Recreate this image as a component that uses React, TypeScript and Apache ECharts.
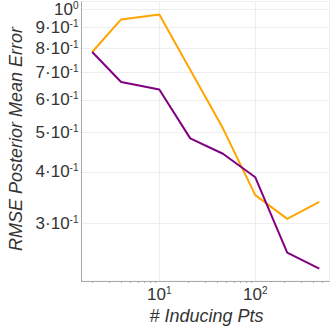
import React, { useEffect, useRef } from 'react';
import * as echarts from 'echarts';

const orangeX = [2, 4, 10, 46, 100, 215, 464];
const orangeRmse = [0.785, 0.943, 0.97, 0.511, 0.351, 0.307, 0.338];
const purpleX = [2, 4, 10, 21, 46, 100, 215, 464];
const purpleRmse = [0.785, 0.663, 0.636, 0.483, 0.443, 0.388, 0.254, 0.232];
const yTickValues = [0.3, 0.4, 0.5, 0.6, 0.7, 0.8, 0.9, 1];
const xMinorTicks = [2, 3, 4, 5, 6, 7, 8, 9, 20, 30, 40, 50, 60, 70, 80, 90, 200, 300, 400, 500];
const xMin = 1.547;
const xMax = 593;
const yMin = 0.2165;
const yMax = 1.043;

const labelColor = '#333333';
const rich = {
  m: { fontSize: 17, color: labelColor, fontFamily: 'Liberation Sans', lineHeight: 18 },
  s: { fontSize: 10, color: labelColor, fontFamily: 'Liberation Sans', verticalAlign: 'top' as const, lineHeight: 10 },
};

export default function App() {
  const ref = useRef<HTMLDivElement>(null);
  useEffect(() => {
    if (!ref.current) return;
    const chart = echarts.init(ref.current, undefined, { renderer: 'svg' });
    chart.setOption({
      animation: false,
      grid: {
        left: 81.5,
        top: 1,
        right: 1.5,
        bottom: 50,
        show: true,
        borderColor: '#f0f0f0',
        borderWidth: 1,
        backgroundColor: 'transparent',
      },
      xAxis: [
        {
          type: 'log',
          min: xMin,
          max: xMax,
          position: 'bottom',
          axisLine: { show: true, onZero: false, lineStyle: { color: '#aaaaaa', width: 1 } },
          axisTick: { show: false },
          splitLine: { show: true, lineStyle: { color: '#eeeeee', width: 1 } },
          axisLabel: {
            show: true,
            margin: 4,
            showMinLabel: false,
            showMaxLabel: false,
            formatter: (v: number) => `{m|10}{s|${Math.round(Math.log10(v))}}`,
            rich,
          },
        },
        {
          type: 'value',
          min: Math.log10(xMin),
          max: Math.log10(xMax),
          position: 'bottom',
          axisLine: { show: false, onZero: false },
          axisTick: {
            show: true,
            customValues: xMinorTicks.map((v) => Math.log10(v)),
            length: 2,
            lineStyle: { color: '#aaaaaa' },
          },
          axisLabel: { show: false },
          splitLine: { show: false },
        },
      ],
      yAxis: [
        {
          type: 'log',
          min: yMin,
          max: yMax,
          position: 'left',
          axisLine: { show: true, onZero: false, lineStyle: { color: '#999999', width: 1, type: 'dotted' } },
          axisTick: { show: false },
          splitLine: { show: false },
          axisLabel: { show: false },
        },
        {
          type: 'value',
          min: Math.log10(yMin),
          max: Math.log10(yMax),
          position: 'left',
          axisLine: { show: false, onZero: false },
          axisTick: { show: false, customValues: yTickValues.map((v) => Math.log10(v)) },
          splitLine: { show: true, lineStyle: { color: '#eeeeee', width: 1 } },
          axisLabel: {
            show: true,
            margin: 3,
            customValues: yTickValues.map((v) => Math.log10(v)),
            formatter: (v: number) => {
              const val = Math.round(Math.pow(10, v) * 10);
              if (val >= 10) return '{m|10}{s|0}';
              return `{m|${val}·10}{s|-1}`;
            },
            rich,
          },
        },
      ],
      series: [
        {
          type: 'line',
          xAxisIndex: 0,
          yAxisIndex: 0,
          data: orangeX.map((x, i) => [x, orangeRmse[i]]),
          symbol: 'none',
          lineStyle: { color: '#FFA500', width: 2 },
          itemStyle: { color: '#FFA500' },
        },
        {
          type: 'line',
          xAxisIndex: 0,
          yAxisIndex: 0,
          data: purpleX.map((x, i) => [x, purpleRmse[i]]),
          symbol: 'none',
          lineStyle: { color: '#800080', width: 2 },
          itemStyle: { color: '#800080' },
        },
      ],
      graphic: [
        {
          type: 'text',
          x: 16,
          y: 139,
          rotation: Math.PI / 2,
          style: {
            text: 'RMSE Posterior Mean Error',
            align: 'center',
            verticalAlign: 'middle',
            fontSize: 18,
            fontStyle: 'italic',
            fontFamily: 'Liberation Sans',
            fill: labelColor,
          },
        },
        {
          type: 'text',
          x: 206.5,
          y: 316,
          style: {
            text: '# Inducing Pts',
            align: 'center',
            verticalAlign: 'middle',
            fontSize: 18,
            fontStyle: 'italic',
            fontFamily: 'Liberation Sans',
            fill: labelColor,
          },
        },
      ],
    });
    return () => chart.dispose();
  }, []);
  return (
    <div
      ref={ref}
      style={{ position: 'absolute', left: 0, top: 0, width: 331, height: 331 }}
    />
  );
}
